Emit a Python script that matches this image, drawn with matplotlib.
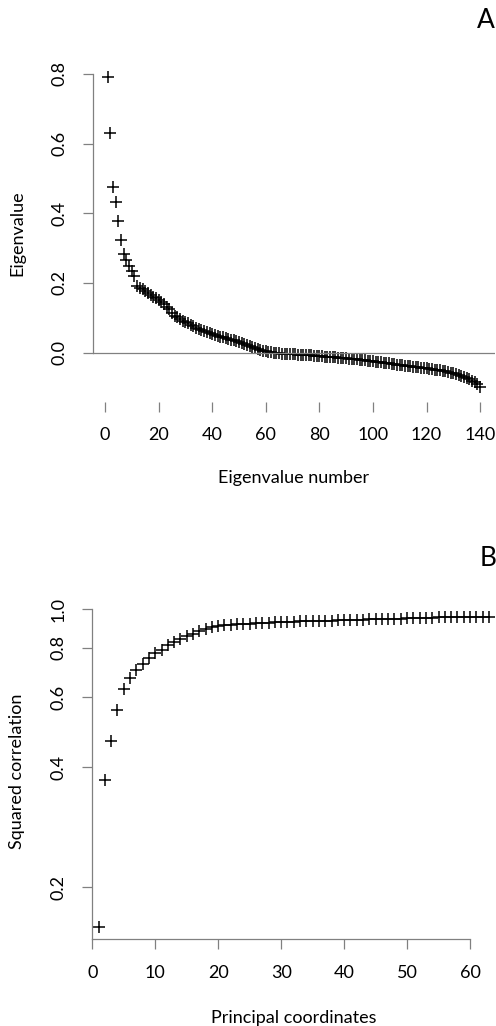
import numpy as np
import matplotlib.pyplot as plt

plt.rcParams['font.family'] = ['Lato', 'DejaVu Sans']

# panel A: eigenvalues, in order
eigenvalues = [
    0.791, 0.630, 0.476, 0.432, 0.379, 0.323, 0.282, 0.265, 0.250, 0.235,
    0.220, 0.190, 0.186, 0.182, 0.177, 0.171, 0.166, 0.161, 0.156, 0.151,
    0.145, 0.139, 0.132, 0.124, 0.113, 0.106, 0.101, 0.096, 0.092, 0.088,
    0.084, 0.080, 0.076, 0.072, 0.068, 0.065, 0.062, 0.059, 0.057, 0.054,
    0.051, 0.049, 0.046, 0.044, 0.042, 0.040, 0.037, 0.035, 0.033, 0.031,
    0.028, 0.025, 0.022, 0.019, 0.016, 0.013, 0.010, 0.008, 0.006, 0.004,
    0.002, 0.001, 0.000, -0.001, -0.002, -0.003, -0.003, -0.004, -0.004, -0.005,
    -0.005, -0.006, -0.006, -0.007, -0.007, -0.008, -0.008, -0.009, -0.009, -0.010,
    -0.010, -0.011, -0.011, -0.012, -0.013, -0.013, -0.014, -0.015, -0.015, -0.016,
    -0.017, -0.018, -0.019, -0.019, -0.020, -0.021, -0.022, -0.023, -0.024, -0.025,
    -0.026, -0.027, -0.028, -0.029, -0.030, -0.031, -0.032, -0.033, -0.034, -0.035,
    -0.036, -0.037, -0.038, -0.039, -0.040, -0.041, -0.042, -0.043, -0.044, -0.045,
    -0.046, -0.047, -0.049, -0.050, -0.051, -0.052, -0.054, -0.055, -0.057, -0.059,
    -0.061, -0.063, -0.066, -0.069, -0.072, -0.076, -0.080, -0.084, -0.090, -0.099,
]

# panel B: squared correlation per principal coordinate
sq_corr = [
    0.159, 0.372, 0.466, 0.559, 0.631, 0.672, 0.705, 0.730, 0.756, 0.777,
    0.792, 0.812, 0.828, 0.843, 0.856, 0.866, 0.880, 0.890, 0.900, 0.908,
    0.911, 0.914, 0.916, 0.918, 0.920, 0.922, 0.924, 0.926, 0.927, 0.929,
    0.930, 0.931, 0.932, 0.933, 0.934, 0.935, 0.936, 0.937, 0.938, 0.939,
    0.940, 0.941, 0.942, 0.943, 0.944, 0.945, 0.946, 0.947, 0.948, 0.949,
    0.950, 0.951, 0.952, 0.953, 0.954, 0.955, 0.955, 0.956, 0.957, 0.957,
    0.958, 0.958, 0.959,
]

xticks_a = [0, 20, 40, 60, 80, 100, 120, 140]
yticks_a = [0.0, 0.2, 0.4, 0.6, 0.8]
xticks_b = [0, 10, 20, 30, 40, 50, 60]
yticks_b = [0.2, 0.4, 0.6, 0.8, 1.0]

W, H = 496, 1026
fig = plt.figure(figsize=(W / 100, H / 100), dpi=100)
grey = '#808080'


def box(x0, y0, x1, y1):
    # pixel box -> figure fraction
    return [x0 / W, 1 - y1 / H, (x1 - x0) / W, (y1 - y0) / H]


def px(x, y):
    return x / W, 1 - y / H


def style(ax):
    for s in ['top', 'right']:
        ax.spines[s].set_visible(False)
    for s in ['left', 'bottom']:
        ax.spines[s].set_color(grey)
        ax.spines[s].set_linewidth(0.9)
    ax.tick_params(length=7.5, width=0.9, color=grey, labelsize=13, pad=11)


# ---- A ----
axA = fig.add_axes(box(92.8, 64.9, 495, 401.8))
idx = np.arange(1, len(eigenvalues) + 1)
axA.plot(idx, eigenvalues, '+', color='black', ms=9, mew=1.1)
axA.axhline(0, color=grey, lw=0.9)
axA.set_xlim(-4.56, 145.56)
axA.set_ylim(-0.141, 0.826)
style(axA)
axA.spines['bottom'].set_visible(False)
axA.spines['left'].set_bounds(0, 0.8)
axA.set_xticks(xticks_a)
axA.set_xticklabels([str(t) for t in xticks_a])
axA.set_yticks(yticks_a)
axA.set_yticklabels(['%.1f' % t for t in yticks_a], rotation=90, va='center')

fig.text(*px(294, 478), 'Eigenvalue number', ha='center', va='center', fontsize=13)
fig.text(*px(17, 233), 'Eigenvalue', ha='center', va='center', rotation=90, fontsize=13)
fig.text(*px(486, 20), 'A', ha='center', va='center', fontsize=19)

# ---- B ----
axB = fig.add_axes(box(92.3, 603.8, 496, 939))
pc = np.arange(1, len(sq_corr) + 1)
axB.plot(pc, sq_corr, '+', color='black', ms=9, mew=1.1)
axB.set_yscale('log')
axB.set_xlim(0, (496 - 92.3) / 6.295)
axB.set_ylim(0.148, 1.0325)
style(axB)
axB.spines['left'].set_bounds(0.148, 1.0)
axB.spines['bottom'].set_bounds(0, 60)
axB.set_xticks(xticks_b)
axB.set_xticklabels([str(t) for t in xticks_b])
axB.set_yticks(yticks_b)
axB.yaxis.set_minor_locator(plt.NullLocator())
axB.set_yticklabels(['%.1f' % t for t in yticks_b], rotation=90, va='center')

fig.text(*px(294, 1018), 'Principal coordinates', ha='center', va='center', fontsize=13)
fig.text(*px(17, 771), 'Squared correlation', ha='center', va='center', rotation=90, fontsize=13)
fig.text(*px(488, 559), 'B', ha='center', va='center', fontsize=19)

fig.savefig('out.png', dpi=100)
